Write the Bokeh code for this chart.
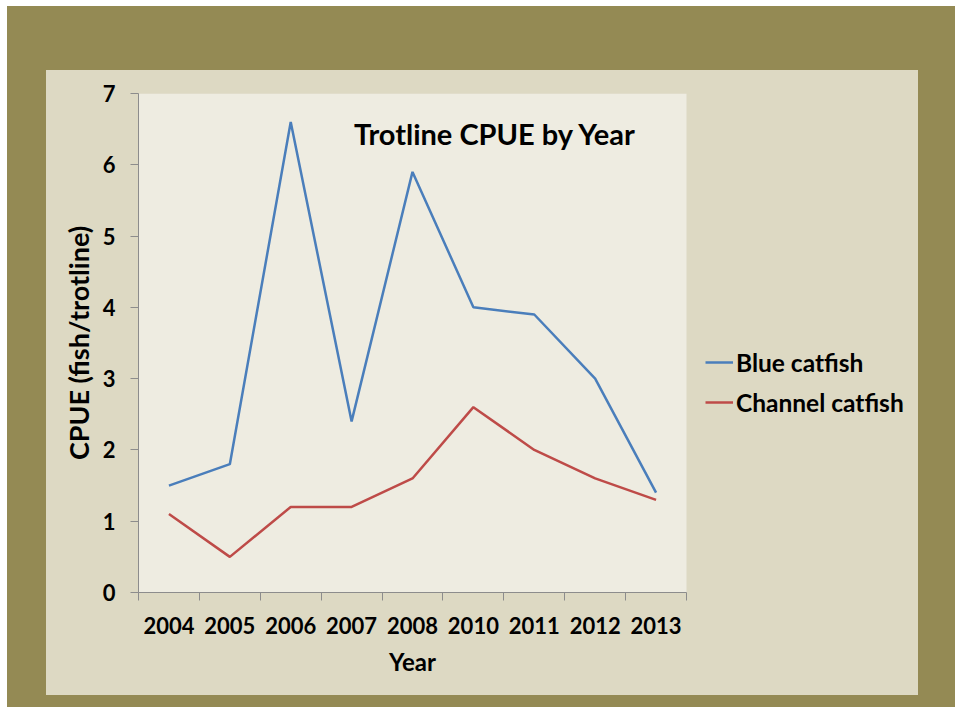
from bokeh.plotting import figure
from bokeh.models import (Range1d, FixedTicker, Label, Legend, LegendItem, LinearAxis, BoxAnnotation)
from bokeh.layouts import column
from bokeh.embed import file_html
from bokeh.resources import INLINE

years = ["2004", "2005", "2006", "2007", "2008", "2010", "2011", "2012", "2013"]
blue_catfish = [1.5, 1.8, 6.6, 2.4, 5.9, 4.0, 3.9, 3.0, 1.4]
channel_catfish = [1.1, 0.5, 1.2, 1.2, 1.6, 2.6, 2.0, 1.6, 1.3]
y_ticks = [0, 1, 2, 3, 4, 5, 6, 7]

FONT = "Lato"
OLIVE = "#948A54"
PANEL = "#DDD9C3"
PLOT_BG = "#EEECE1"
AXIS_COL = "#8C8C8C"

n = len(years)
xs = [i + 0.5 for i in range(n)]
bounds = list(range(n + 1))

# chart panel 872 px wide; plot area 548 px wide starting 92 px from the left;
# the frame is extended to the panel's right edge so the legend can sit there
FIG_W, LEFT, PLOT_W = 872, 92, 548
TOP_H, BOTTOM_H = 575, 50
x_end = n * (FIG_W - LEFT) / PLOT_W

p = figure(width=FIG_W, height=TOP_H, output_backend="svg", toolbar_location=None,
           x_range=Range1d(0, x_end), y_range=Range1d(0, 7),
           x_axis_type=None, y_axis_type=None,
           min_border_left=LEFT, min_border_right=0, min_border_top=23,
           min_border_bottom=TOP_H - 23 - 499)
p.styles = {"background-color": PANEL}
p.border_fill_alpha = 0
p.background_fill_alpha = 0
p.outline_line_color = None
p.xgrid.visible = False
p.ygrid.visible = False

p.add_layout(BoxAnnotation(left=0, right=n, bottom=0, top=7, fill_color=PLOT_BG,
                           fill_alpha=1, line_color=None, level="underlay"))

xaxis = LinearAxis(ticker=FixedTicker(ticks=xs, minor_ticks=bounds),
                   major_label_overrides={x: y for x, y in zip(xs, years)},
                   bounds=(0, n))
xaxis.major_tick_line_color = None
xaxis.minor_tick_line_color = AXIS_COL
xaxis.minor_tick_out = 8
xaxis.minor_tick_in = 0
xaxis.axis_line_color = AXIS_COL
xaxis.major_label_standoff = 16
xaxis.major_label_text_font = FONT
xaxis.major_label_text_font_style = "bold"
xaxis.major_label_text_font_size = "22px"
xaxis.major_label_text_color = "black"
p.add_layout(xaxis, "below")

yaxis = LinearAxis(ticker=FixedTicker(ticks=y_ticks))
yaxis.axis_label = "CPUE (fish/trotline)"
yaxis.major_tick_line_color = AXIS_COL
yaxis.major_tick_out = 8
yaxis.major_tick_in = 0
yaxis.minor_tick_line_color = None
yaxis.axis_line_color = AXIS_COL
yaxis.major_label_standoff = 15
yaxis.axis_label_standoff = 5
yaxis.major_label_text_font = FONT
yaxis.major_label_text_font_style = "bold"
yaxis.major_label_text_font_size = "22px"
yaxis.major_label_text_color = "black"
yaxis.axis_label_text_font = FONT
yaxis.axis_label_text_font_style = "bold"
yaxis.axis_label_text_font_size = "27px"
yaxis.axis_label_text_color = "black"
p.add_layout(yaxis, "left")

r1 = p.line(xs, blue_catfish, line_color="#4A7EBB", line_width=2.5)
r2 = p.line(xs, channel_catfish, line_color="#BE4B48", line_width=2.5)

title = Label(x=5.86, y=6.44, text="Trotline CPUE by Year", text_font=FONT,
              text_font_style="bold", text_font_size="29px", text_align="center",
              text_baseline="middle", text_color="black")
p.add_layout(title)

legend = Legend(items=[LegendItem(label="Blue catfish", renderers=[r1]),
                       LegendItem(label="Channel catfish", renderers=[r2])],
                location=(567, 175), orientation="vertical",
                background_fill_alpha=0, border_line_color=None,
                padding=0, margin=0, spacing=10,
                glyph_width=28, glyph_height=30, label_height=30, label_standoff=3,
                label_text_font=FONT, label_text_font_style="bold",
                label_text_font_size="24.5px", label_text_color="black")
p.add_layout(legend, "center")

# strip under the chart holding the x-axis title, centred under the plot area
# (its frame is aligned with the chart's frame, so it shares the x range)
p2 = figure(width=FIG_W, height=BOTTOM_H, output_backend="svg", toolbar_location=None,
            x_range=p.x_range, y_range=Range1d(0, BOTTOM_H),
            x_axis_type=None, y_axis_type=None, min_border=0)
p2.styles = {"background-color": PANEL}
p2.border_fill_alpha = 0
p2.background_fill_alpha = 0
p2.outline_line_color = None
p2.xgrid.visible = False
p2.ygrid.visible = False
p2.add_layout(Label(x=n / 2, y=BOTTOM_H - 16, text="Year", text_font=FONT,
                    text_font_style="bold", text_font_size="24px", text_align="center",
                    text_baseline="middle", text_color="black"))

layout = column(p, p2, spacing=0,
                styles={"background-color": OLIVE,
                        "border-left": "7px solid white",
                        "border-top": "6px solid white",
                        "padding": "64px 37px 12px 39px"})

open("out.html", "w").write(file_html(layout, INLINE))
